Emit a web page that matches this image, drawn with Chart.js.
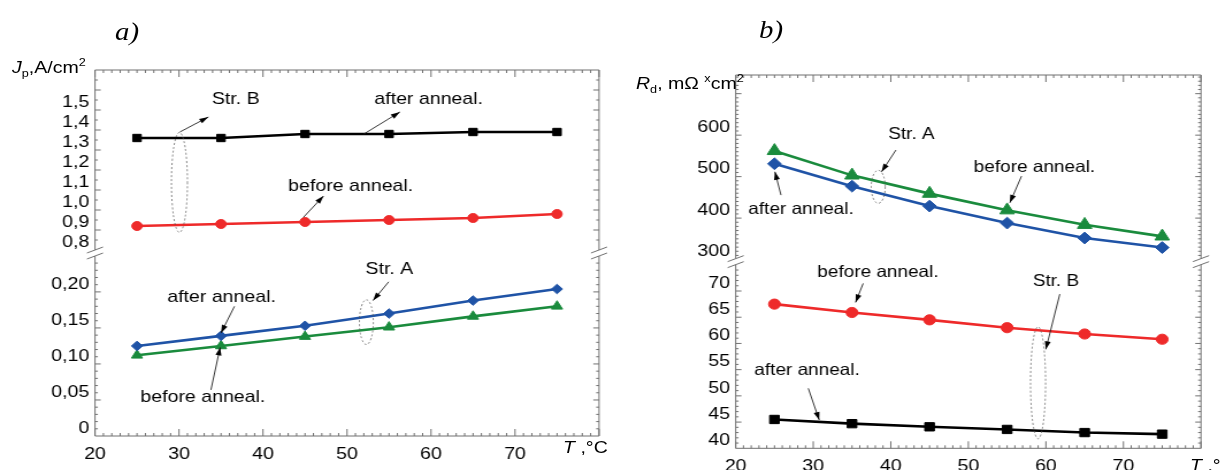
<!DOCTYPE html>
<html>
<head>
<meta charset="utf-8">
<script src="https://cdn.jsdelivr.net/npm/chart.js@4.4.1/dist/chart.umd.min.js"></script>
<style>
  html, body { margin: 0; padding: 0; background: #fff; }
  body { width: 1220px; height: 470px; position: relative; overflow: hidden;
         font-family: 'Liberation Sans', Arial, sans-serif; color: #000; }
  .panel { position: absolute; top: 0; transform-origin: 0 0; transform: scaleX(1.15); }
  #panelA { left: 0; }
  #panelB { left: 620px; }
  .lbl { position: absolute; white-space: nowrap; line-height: 20px; font-size: 17px;
         transform-origin: 0 0; transform: scaleX(1.15); }
  .tag { font-family: 'Liberation Serif', 'Times New Roman', serif; font-style: italic;
         font-size: 25px; line-height: 28px; }
  .lo { position: relative; top: 4px; font-size: 11px; }
  .hi { position: relative; top: -7px; font-size: 11px; }
</style>
</head>
<body>
<div id="panelA" class="panel"><canvas id="chartA" width="530" height="470"></canvas></div>
<div id="panelB" class="panel"><canvas id="chartB" width="522" height="470"></canvas></div>

<div class="lbl tag" style="left:115px;top:18px">a)</div>
<div class="lbl tag" style="left:759px;top:16px">b)</div>
<div class="lbl" style="left:12px;top:58px"><i>J</i><span class="lo">p</span>,A/cm<span class="hi">2</span></div>
<div class="lbl" style="left:636px;top:74px"><i>R</i><span class="lo">d</span>, mΩ <span class="hi">x</span>cm<span class="hi">2</span></div>
<div class="lbl" style="left:563px;top:438px"><i>T</i> ,°C</div>
<div class="lbl" style="left:1190px;top:456px"><i>T</i> ,°C</div>

<script>
// temperature, °C
const temps = [25, 35, 45, 55, 65, 75];

// a) peak current density J_p, A/cm2
const jStrBAfter  = [1.36, 1.36, 1.38, 1.38, 1.39, 1.39];
const jStrBBefore = [0.92, 0.93, 0.94, 0.95, 0.96, 0.98];
const jStrAAfter  = [0.125, 0.139, 0.153, 0.170, 0.188, 0.204];
const jStrABefore = [0.112, 0.125, 0.138, 0.151, 0.166, 0.180];

// b) differential resistance R_d, mOhm*cm2
const rStrABefore = [562, 503, 459, 419, 384, 356];
const rStrAAfter  = [531, 477, 429, 388, 352, 329];
const rStrBBefore = [67.5, 65.9, 64.5, 63.0, 61.8, 60.8];
const rStrBAfter  = [45.5, 44.7, 44.1, 43.6, 43.0, 42.7];

// tick labels
const xTicks      = [20, 30, 40, 50, 60, 70];
const jUpperTicks = [0.8, 0.9, 1.0, 1.1, 1.2, 1.3, 1.4, 1.5];
const jLowerTicks = [0, 0.05, 0.10, 0.15, 0.20];
const rUpperTicks = [300, 400, 500, 600];
const rLowerTicks = [40, 45, 50, 55, 60, 65, 70];

const S = 1.15; // the original figure is stretched horizontally
const RED = '#ee2a2a', BLUE = '#1f53a6', GREEN = '#1a8b3d', BLACK = '#000000';
const tickFont = { family: "'Liberation Sans', Arial, sans-serif", size: 17 };

function comma(dec) {
  return v => v === 0 ? '0' : Number(v).toFixed(dec).replace('.', ',');
}

// frame, inward tick marks and the axis break
const framePlugin = {
  id: 'frame',
  beforeDatasetsDraw(chart, args, o) {
    const { ctx, chartArea: a, scales } = chart;
    const b = scales.yTop.bottom, g = 3;
    ctx.save();
    ctx.strokeStyle = '#707070';
    ctx.lineWidth = 1;
    ctx.beginPath();
    ctx.moveTo(a.left, a.top);    ctx.lineTo(a.right, a.top);
    ctx.moveTo(a.left, a.bottom); ctx.lineTo(a.right, a.bottom);
    [a.left, a.right].forEach(px => {
      ctx.moveTo(px, a.top);  ctx.lineTo(px, b - g);
      ctx.moveTo(px, b + g);  ctx.lineTo(px, a.bottom);
      ctx.moveTo(px - 7, b - g + 3); ctx.lineTo(px + 7, b - g - 3);
      ctx.moveTo(px - 7, b + g + 3); ctx.lineTo(px + 7, b + g - 3);
    });

    const yTicks = (s, major, minor) => {
      const n0 = Math.ceil(s.min / minor - 1e-6), n1 = Math.floor(s.max / minor + 1e-6);
      for (let n = n0; n <= n1; n++) {
        const v = n * minor;
        const maj = Math.abs(v / major - Math.round(v / major)) < 1e-6;
        const p = s.getPixelForValue(v);
        if (p < a.top + 1 || p > a.bottom - 1 || Math.abs(p - b) < g + 1) continue;
        const L = maj ? 5 : 2.5;
        ctx.moveTo(a.left, p);  ctx.lineTo(a.left + L, p);
        ctx.moveTo(a.right, p); ctx.lineTo(a.right - L, p);
      }
    };
    yTicks(scales.yTop, o.top[0], o.top[1]);
    yTicks(scales.yBot, o.bot[0], o.bot[1]);

    const xs = scales.x;
    for (let v = xs.min; v <= xs.max + 1e-6; v += 1) {
      const p = xs.getPixelForValue(v);
      const L = v % 10 === 0 ? 7 : 3;
      ctx.moveTo(p, a.bottom); ctx.lineTo(p, a.bottom - L);
      ctx.moveTo(p, a.top);    ctx.lineTo(p, a.top + L);
    }
    ctx.stroke();
    ctx.restore();
  }
};

// text notes, arrows and dashed rings
const notesPlugin = {
  id: 'notes',
  afterDatasetsDraw(chart, args, o) {
    const { ctx, scales } = chart;
    const X = v => scales.x.getPixelForValue(v);
    ctx.save();
    ctx.font = `${o.size}px 'Liberation Sans', Arial, sans-serif`;
    ctx.fillStyle = '#000';
    ctx.strokeStyle = '#222';
    ctx.textBaseline = 'middle';
    o.items.forEach(it => {
      const Y = v => scales[it.ax].getPixelForValue(v);
      if (it.t === 'text') {
        ctx.fillText(it.s, X(it.x), Y(it.y));
      } else if (it.t === 'arrow') {
        const x1 = X(it.x1), y1 = Y(it.y1), x2 = X(it.x2), y2 = Y(it.y2);
        const ang = Math.atan2(y2 - y1, x2 - x1);
        ctx.lineWidth = 0.9;
        ctx.setLineDash([]);
        ctx.beginPath(); ctx.moveTo(x1, y1); ctx.lineTo(x2, y2); ctx.stroke();
        ctx.beginPath();
        ctx.moveTo(x2, y2);
        ctx.lineTo(x2 - 8 * Math.cos(ang) + 2.6 * Math.sin(ang), y2 - 8 * Math.sin(ang) - 2.6 * Math.cos(ang));
        ctx.lineTo(x2 - 8 * Math.cos(ang) - 2.6 * Math.sin(ang), y2 - 8 * Math.sin(ang) + 2.6 * Math.cos(ang));
        ctx.closePath();
        ctx.fill();
      } else if (it.t === 'ring') {
        const cx = X(it.x), cy = Y(it.y);
        const rx = Math.abs(X(it.x + it.rx) - cx), ry = Math.abs(Y(it.y + it.ry) - cy);
        ctx.lineWidth = 0.7;
        ctx.strokeStyle = '#555';
        ctx.setLineDash([2, 2]);
        ctx.beginPath(); ctx.ellipse(cx, cy, rx, ry, 0, 0, Math.PI * 2); ctx.stroke();
        ctx.strokeStyle = '#222';
        ctx.setLineDash([]);
      }
    });
    ctx.restore();
  }
};

function series(label, values, axis, color, style, radius) {
  return {
    label,
    data: temps.map((t, i) => ({ x: t, y: values[i] })),
    yAxisID: axis,
    borderColor: color,
    backgroundColor: color,
    borderWidth: 2.6,
    pointStyle: style,
    pointRadius: radius,
    pointBorderWidth: 1,
    tension: 0,
  };
}

function yScale(min, max, ticks, fmt, width) {
  return {
    type: 'linear', position: 'left', stack: 'brk', stackWeight: 1,
    min, max,
    afterBuildTicks: s => { s.ticks = ticks.map(v => ({ value: v })); },
    afterFit: s => { s.width = width; },
    ticks: { font: tickFont, color: '#000', padding: 5, labelOffset: -8, autoSkip: false, callback: fmt },
    grid: { display: false, drawTicks: false },
    border: { display: false },
  };
}

function makeChart(id, cfg) {
  return new Chart(document.getElementById(id), {
    type: 'line',
    data: { datasets: cfg.datasets },
    options: {
      responsive: false,
      animation: false,
      devicePixelRatio: 1,
      layout: { padding: { top: cfg.top, right: cfg.right, left: 0, bottom: 0 } },
      scales: {
        x: {
          type: 'linear', min: 20, max: 80,
          afterBuildTicks: s => { s.ticks = xTicks.map(v => ({ value: v })); },
          afterFit: s => { s.height = cfg.xh; },
          ticks: { font: tickFont, color: '#000', padding: cfg.xpad, maxRotation: 0, autoSkip: false },
          grid: { display: false, drawTicks: false },
          border: { display: false },
        },
        yBot: cfg.yBot,
        yTop: cfg.yTop,
      },
      plugins: {
        legend: { display: false },
        tooltip: { enabled: false },
        frame: cfg.frame,
        notes: cfg.notes,
      },
    },
    plugins: [framePlugin, notesPlugin],
  });
}

makeChart('chartA', {
  top: 70, right: 9.1, xh: 34, xpad: 8,
  yTop: yScale(0.785, 1.7, jUpperTicks, comma(1), 95 / S),
  yBot: yScale(0, 0.254, jLowerTicks, comma(2), 95 / S),
  frame: { top: [0.1, 0.05], bot: [0.05, 0.01] },
  datasets: [
    series('Str. B after anneal.',  jStrBAfter,  'yTop', BLACK, 'rect', 5.2),
    series('Str. B before anneal.', jStrBBefore, 'yTop', RED,   'circle', 4.5),
    series('Str. A after anneal.',  jStrAAfter,  'yBot', BLUE,  'rectRot', 4.8),
    series('Str. A before anneal.', jStrABefore, 'yBot', GREEN, 'triangle', 5.6),
  ],
  notes: {
    size: 17,
    items: [
      { t: 'text', s: 'Str. B', x: 33.9, y: 1.551, ax: 'yTop' },
      { t: 'arrow', x1: 30.1, y1: 1.39, x2: 33.5, y2: 1.465, ax: 'yTop' },
      { t: 'ring', x: 30.05, y: 1.138, rx: 0.95, ry: 0.25, ax: 'yTop' },
      { t: 'text', s: 'after anneal.', x: 53.25, y: 1.554, ax: 'yTop' },
      { t: 'arrow', x1: 52.0, y1: 1.38, x2: 56.3, y2: 1.49, ax: 'yTop' },
      { t: 'text', s: 'before anneal.', x: 43.0, y: 1.119, ax: 'yTop' },
      { t: 'arrow', x1: 44.8, y1: 0.963, x2: 47.2, y2: 1.07, ax: 'yTop' },
      { t: 'text', s: 'Str. A', x: 52.2, y: 0.232, ax: 'yBot' },
      { t: 'arrow', x1: 54.96, y1: 0.214, x2: 53.1, y2: 0.188, ax: 'yBot' },
      { t: 'ring', x: 52.3, y: 0.158, rx: 0.83, ry: 0.031, ax: 'yBot' },
      { t: 'text', s: 'after anneal.', x: 28.6, y: 0.192, ax: 'yBot' },
      { t: 'arrow', x1: 36.6, y1: 0.180, x2: 35.0, y2: 0.143, ax: 'yBot' },
      { t: 'text', s: 'before anneal.', x: 25.4, y: 0.0535, ax: 'yBot' },
      { t: 'arrow', x1: 33.8, y1: 0.064, x2: 34.9, y2: 0.123, ax: 'yBot' },
    ],
  },
});

makeChart('chartB', {
  top: 75, right: 16.8, xh: 21.7, xpad: 8,
  yTop: yScale(295, 745, rUpperTicks, comma(0), (735.7 - 620) / S),
  yBot: yScale(40, 75.6, rLowerTicks, comma(0), (735.7 - 620) / S),
  frame: { top: [100, 10], bot: [5, 1] },
  datasets: [
    series('Str. A before anneal.', rStrABefore, 'yTop', GREEN, 'triangle', 7.3),
    series('Str. A after anneal.',  rStrAAfter,  'yTop', BLUE,  'rectRot', 5.9),
    series('Str. B before anneal.', rStrBBefore, 'yBot', RED,   'circle', 5.1),
    series('Str. B after anneal.',  rStrBAfter,  'yBot', BLACK, 'rect', 5.9),
  ],
  notes: {
    size: 16.5,
    items: [
      { t: 'text', s: 'Str. A', x: 39.67, y: 602.6, ax: 'yTop' },
      { t: 'arrow', x1: 40.66, y1: 564, x2: 38.81, y2: 511.6, ax: 'yTop' },
      { t: 'ring', x: 38.38, y: 475.4, rx: 0.9, ry: 39.8, ax: 'yTop' },
      { t: 'text', s: 'before anneal.', x: 50.7, y: 521.8, ax: 'yTop' },
      { t: 'arrow', x1: 56.86, y1: 501.3, x2: 55.35, y2: 436.8, ax: 'yTop' },
      { t: 'text', s: 'after anneal.', x: 21.62, y: 421.6, ax: 'yTop' },
      { t: 'arrow', x1: 25.84, y1: 455.4, x2: 25.06, y2: 511.6, ax: 'yTop' },
      { t: 'text', s: 'before anneal.', x: 30.52, y: 73.5, ax: 'yBot' },
      { t: 'arrow', x1: 36.44, y1: 71.45, x2: 35.46, y2: 67.83, ax: 'yBot' },
      { t: 'text', s: 'Str. B', x: 58.31, y: 71.8, ax: 'yBot' },
      { t: 'arrow', x1: 61.79, y1: 69.41, x2: 59.99, y2: 58.87, ax: 'yBot' },
      { t: 'ring', x: 58.99, y: 52.5, rx: 0.97, ry: 10.67, ax: 'yBot' },
      { t: 'text', s: 'after anneal.', x: 22.4, y: 54.83, ax: 'yBot' },
      { t: 'arrow', x1: 29.36, y1: 51.44, x2: 30.77, y2: 45.39, ax: 'yBot' },
    ],
  },
});
</script>
</body>
</html>
